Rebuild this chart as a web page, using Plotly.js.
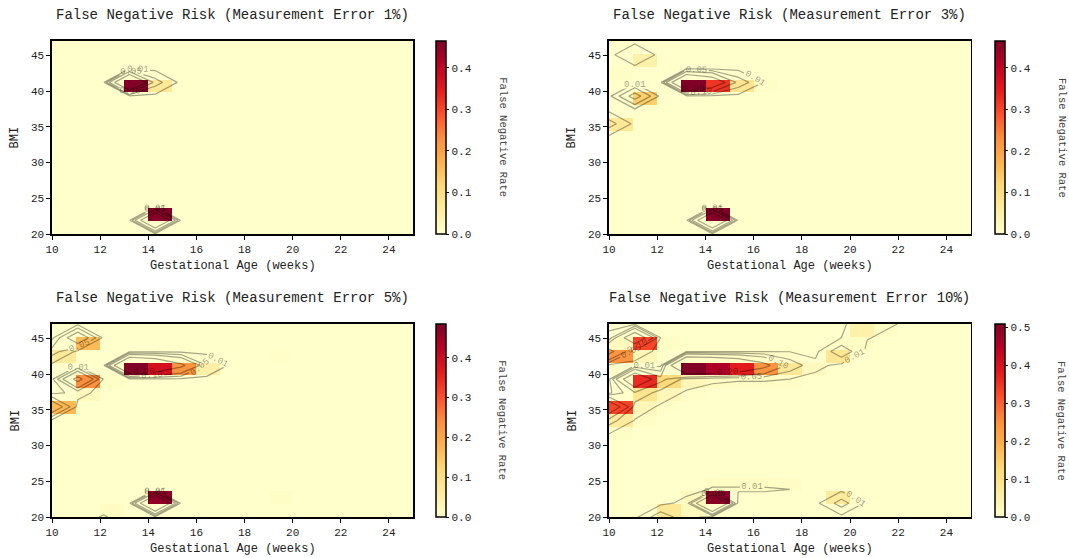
<!DOCTYPE html>
<html>
<head>
<meta charset="utf-8">
<script src="https://cdn.plot.ly/plotly-3.0.1.min.js"></script>
<style>html,body{margin:0;padding:0;background:#fff}#chart{width:1069px;height:558px}</style>
</head>
<body>
<div id="chart"></div>
<script>
// Heatmap cell centres
const gestAgeCenters = [10.5,11.5,12.5,13.5,14.5,15.5,16.5,17.5,18.5,19.5,20.5,21.5,22.5,23.5,24.5];
const bmiCenters = [20.9,22.7,24.5,26.3,28.1,29.9,31.7,33.5,35.3,37.1,38.9,40.7,42.5,44.3,46.1];
// Contour grid (same values, spread over the full extent)
const contourAges = [10,11.071,12.143,13.214,14.286,15.357,16.429,17.5,18.571,19.643,20.714,21.786,22.857,23.929,25];
const contourBmis = [20,21.929,23.857,25.786,27.714,29.643,31.571,33.5,35.429,37.357,39.286,41.214,43.143,45.071,47];
const contourLevels = [0.01, 0.05, 0.1, 0.2];
const errorLabels = ['1%', '3%', '5%', '10%'];
const xTicks = [10,12,14,16,18,20,22,24];
const yTicks = [20,25,30,35,40,45];

// False negative rate grids, written top row (BMI 46.1) first, bottom row (BMI 20.9) last
const fnr1 = [
 [0,0,0,0,0,0,0,0,0,0,0,0,0,0,0],
 [0,0,0,0,0,0,0,0,0,0,0,0,0,0,0],
 [0,0,0,0,0,0,0,0,0,0,0,0,0,0,0],
 [0,0,0,0.465,0.07,0,0,0,0,0,0,0,0,0,0],
 [0,0,0,0,0,0,0,0,0,0,0,0,0,0,0],
 [0,0,0,0,0,0,0,0,0,0,0,0,0,0,0],
 [0,0,0,0,0,0,0,0,0,0,0,0,0,0,0],
 [0,0,0,0,0,0,0,0,0,0,0,0,0,0,0],
 [0,0,0,0,0,0,0,0,0,0,0,0,0,0,0],
 [0,0,0,0,0,0,0,0,0,0,0,0,0,0,0],
 [0,0,0,0,0,0,0,0,0,0,0,0,0,0,0],
 [0,0,0,0,0,0,0,0,0,0,0,0,0,0,0],
 [0,0,0,0,0,0,0,0,0,0,0,0,0,0,0],
 [0,0,0,0,0.46,0,0,0,0,0,0,0,0,0,0],
 [0,0,0,0,0,0,0,0,0,0,0,0,0,0,0]
];
const fnr3 = [
 [0,0,0,0,0,0,0,0,0,0,0,0,0,0,0],
 [0,0.045,0,0,0,0,0,0,0,0,0,0,0,0,0],
 [0.008,0,0,0,0,0,0,0,0,0,0,0,0,0,0],
 [0,0,0,0.465,0.32,0.08,0.008,0,0,0,0,0,0,0,0],
 [0,0.13,0,0,0,0,0,0,0,0,0,0,0,0,0],
 [0,0,0,0,0,0,0,0,0,0,0,0,0,0,0],
 [0.07,0,0,0,0,0,0,0,0,0,0,0,0,0,0],
 [0,0,0,0,0,0,0,0,0,0,0,0,0,0,0],
 [0,0,0,0,0,0,0,0,0,0,0,0,0,0,0],
 [0,0,0,0,0,0,0,0,0,0,0,0,0,0,0],
 [0,0,0,0,0,0,0,0,0,0,0,0,0,0,0],
 [0,0,0,0,0,0,0,0,0,0,0,0,0,0,0],
 [0,0,0,0,0,0,0,0,0,0,0,0,0,0,0],
 [0,0,0,0,0.46,0,0,0,0,0,0,0,0,0,0],
 [0,0,0,0,0,0,0,0,0,0,0,0,0,0,0]
];
const fnr5 = [
 [0,0,0,0,0,0,0,0,0,0,0,0,0,0,0],
 [0,0.17,0,0,0,0,0,0,0,0,0,0,0,0,0],
 [0.07,0,0,0,0,0,0,0,0,0.006,0,0,0,0,0],
 [0,0,0,0.485,0.39,0.23,0.05,0,0,0,0,0,0,0,0],
 [0,0.24,0.008,0,0,0,0,0,0,0,0,0,0,0,0],
 [0,0.02,0,0,0,0,0,0,0,0,0,0,0,0,0],
 [0.17,0,0,0,0,0,0,0,0,0,0,0,0,0,0],
 [0,0,0,0,0,0,0,0,0,0,0,0,0,0,0],
 [0,0,0,0,0,0,0,0,0,0,0,0,0,0,0],
 [0,0,0,0,0,0,0,0,0,0,0,0,0,0,0],
 [0,0,0,0,0,0,0,0,0,0,0,0,0,0,0],
 [0,0,0,0,0,0,0,0,0,0,0,0,0,0,0],
 [0,0,0,0,0,0,0,0,0,0,0,0,0,0,0],
 [0,0,0,0,0.47,0,0,0,0,0.008,0,0,0,0,0],
 [0,0,0.012,0,0,0,0,0,0,0,0,0,0,0,0]
];
const fnr10 = [
 [0,0,0,0,0,0,0,0,0,0,0.05,0.012,0,0,0],
 [0.02,0.33,0.01,0,0,0,0,0,0,0.01,0.012,0,0,0,0],
 [0.24,0.03,0,0.009,0.009,0.009,0.009,0.009,0,0.085,0,0,0,0,0],
 [0,0,0,0.508,0.46,0.38,0.24,0.08,0.02,0,0,0,0,0,0],
 [0,0.36,0.12,0.03,0.015,0.012,0.012,0.01,0,0,0,0,0,0,0],
 [0,0.09,0.03,0.005,0,0,0,0,0,0,0,0,0,0,0],
 [0.33,0.03,0.005,0,0,0,0,0,0,0,0,0,0,0,0],
 [0.07,0.008,0,0,0,0,0,0,0,0,0,0,0,0,0],
 [0.008,0,0,0,0,0,0,0,0,0,0,0,0,0,0],
 [0,0,0,0,0,0,0,0,0,0,0,0,0,0,0],
 [0,0,0,0,0,0,0,0,0,0,0,0,0,0,0],
 [0,0,0,0,0,0,0,0,0,0,0,0,0,0,0],
 [0,0,0,0,0.012,0.012,0.012,0.01,0,0,0,0,0,0,0],
 [0,0,0,0.02,0.5,0,0,0,0,0.07,0,0,0,0,0],
 [0,0,0.08,0.02,0,0,0,0,0,0,0,0,0,0,0]
];
const panels = [fnr1, fnr3, fnr5, fnr10];

const FONT = 'Liberation Mono, DejaVu Sans Mono, monospace';
const ylorrd = [[0,'#ffffcc'],[0.125,'#ffeda0'],[0.25,'#fed976'],[0.375,'#feb24c'],[0.5,'#fd8d3c'],[0.625,'#fc4e2a'],[0.75,'#e31a1c'],[0.875,'#bd0026'],[1,'#800026']];

const W = 1069, H = 558;
// pixel boxes of the four plot areas [left, right, top, bottom]
const boxes = [[52,413,41,234],[609,970.5,41,234],[52,413,324,517],[609,970.5,324,517]];
const cbLeft = [435.7, 995, 435.7, 995];

const data = [];
const layout = {
  width: W, height: H, margin: {l:0,r:0,t:0,b:0},
  paper_bgcolor: '#ffffff', plot_bgcolor: '#ffffcc',
  font: {family: FONT, color: '#222', size: 11},
  showlegend: false, annotations: []
};

panels.forEach((grid, k) => {
  const z = grid.slice().reverse();
  const sfx = k === 0 ? '' : String(k + 1);
  const b = boxes[k];
  const yMid = 1 - ((b[2] + b[3]) / 2) / H;
  const lenFrac = (b[3] - b[2]) / H;
  data.push({
    type: 'heatmap', x: gestAgeCenters, y: bmiCenters, z: z,
    xaxis: 'x' + sfx, yaxis: 'y' + sfx,
    colorscale: ylorrd, zmin: 0, hoverinfo: 'skip',
    colorbar: {
      x: cbLeft[k] / W, xanchor: 'left', xpad: 0, ypad: 0,
      y: yMid, yanchor: 'middle', len: lenFrac, lenmode: 'fraction',
      thickness: 10, outlinewidth: 1.5, outlinecolor: '#000',
      tick0: 0, dtick: 0.1, tickformat: '.1f', ticks: 'outside', ticklen: 3,
      tickcolor: '#000', tickfont: {family: FONT, size: 11, color: '#222'}
    }
  });
  contourLevels.forEach(L => {
    data.push({
      type: 'contour', x: contourAges, y: contourBmis, z: z,
      xaxis: 'x' + sfx, yaxis: 'y' + sfx,
      autocontour: false, showscale: false, hoverinfo: 'skip',
      contours: {start: L, end: L, size: 1, coloring: 'none', showlabels: true,
        labelformat: '.2f', labelfont: {family: FONT, size: 9, color: 'rgba(0,0,0,0.4)'}},
      line: {color: 'rgba(0,0,0,0.35)', width: 1.2, smoothing: 0}
    });
  });
  const axCommon = {showgrid: false, zeroline: false, showline: true, mirror: true,
    linecolor: '#000', linewidth: 1.6, ticks: 'outside', ticklen: 4, tickwidth: 1,
    tickcolor: '#000', tickfont: {family: FONT, size: 11, color: '#222'}};
  layout['xaxis' + sfx] = Object.assign({}, axCommon, {
    domain: [b[0] / W, b[1] / W], range: [10, 25], tickvals: xTicks,
    anchor: 'y' + sfx});
  layout['yaxis' + sfx] = Object.assign({}, axCommon, {
    domain: [1 - b[3] / H, 1 - b[2] / H], range: [20, 47], tickvals: yTicks,
    anchor: 'x' + sfx});
  const cx = (b[0] + b[1]) / 2;
  layout.annotations.push(
    {text: 'False Negative Risk (Measurement Error ' + errorLabels[k] + ')', xref: 'paper', yref: 'paper',
     x: cx / W, y: 1 - (b[2] - 26) / H, xanchor: 'center', yanchor: 'middle', showarrow: false,
     font: {family: FONT, size: 14, color: '#222'}},
    {text: 'Gestational Age (weeks)', xref: 'paper', yref: 'paper',
     x: cx / W, y: 1 - (b[3] + 32) / H, xanchor: 'center', yanchor: 'middle', showarrow: false,
     font: {family: FONT, size: 12, color: '#222'}},
    {text: 'BMI', xref: 'paper', yref: 'paper', textangle: -90,
     x: (b[0] - 37) / W, y: yMid, xanchor: 'center', yanchor: 'middle', showarrow: false,
     font: {family: FONT, size: 12, color: '#222'}},
    {text: 'False Negative Rate', xref: 'paper', yref: 'paper', textangle: 90,
     x: (cbLeft[k] + 66.5) / W, y: yMid, xanchor: 'center', yanchor: 'middle', showarrow: false,
     font: {family: FONT, size: 10.5, color: '#444'}}
  );
});

Plotly.newPlot('chart', data, layout, {displayModeBar: false, staticPlot: true});
</script>
</body>
</html>
